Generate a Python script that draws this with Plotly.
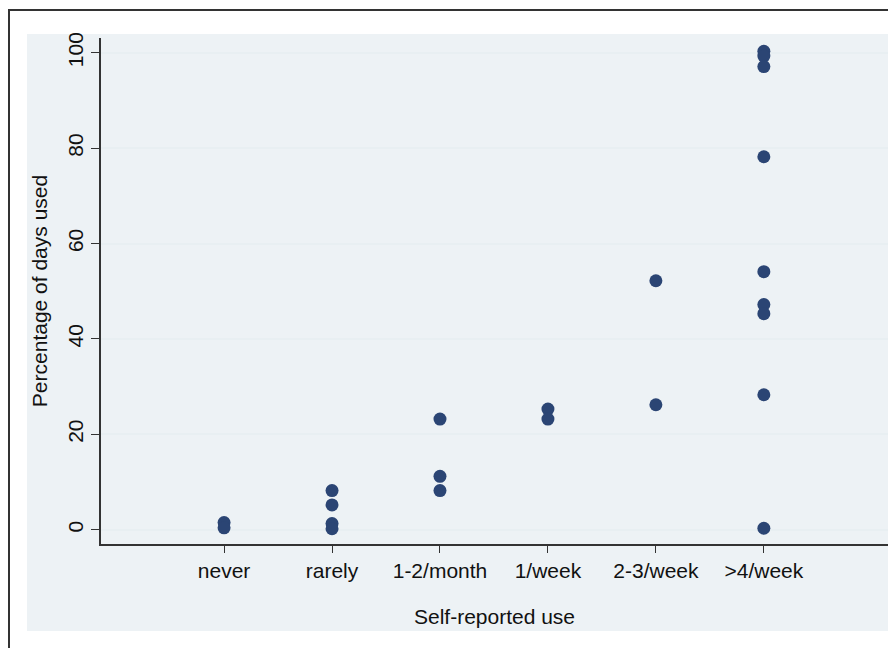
import plotly.graph_objects as go

categories = ["never", "rarely", "1-2/month", "1/week", "2-3/week", ">4/week"]
never = [1.5, 0.4]
rarely = [8.2, 5.2, 1.3, 0.2]
month_1_2 = [23.2, 11.2, 8.2]
week_1 = [25.3, 23.2]
week_2_3 = [52.2, 26.2]
week_4plus = [100.3, 99.3, 97.1, 78.2, 54.1, 47.2, 45.3, 28.3, 0.3]
y_ticks = [0, 20, 40, 60, 80, 100]

groups = [never, rarely, month_1_2, week_1, week_2_3, week_4plus]
xs, ys = [], []
for i, vals in enumerate(groups):
    for v in vals:
        xs.append(i + 1)
        ys.append(v)

W, H = 896, 648
OFF = 8  # page body margin offset
L, R, T, B = 101 - OFF, 888 - OFF, 38 - OFF, 544 - OFF
FONT = "Liberation Sans, Arial, Helvetica, sans-serif"

def px(x):
    return (x - OFF - L) / (R - L)

def py(y):
    return (B - (y - OFF)) / (B - T)

fig = go.Figure()
fig.add_trace(go.Scatter(
    x=xs, y=ys, mode="markers",
    marker=dict(size=13, color="#2b4574", line=dict(width=0)),
    showlegend=False, hoverinfo="x+y",
))

fig.update_layout(
    width=W, height=H,
    margin=dict(l=L, r=W - R, t=T, b=H - B),
    paper_bgcolor="white",
    plot_bgcolor="white",
    font=dict(family=FONT, size=21, color="#111111"),
    shapes=[
        dict(type="rect", xref="paper", yref="paper",
             x0=px(27), x1=px(888), y0=py(631), y1=py(34),
             fillcolor="#edf2f5", line=dict(width=0), layer="below"),
        dict(type="rect", xref="paper", yref="paper",
             x0=px(9), x1=px(960), y0=py(720), y1=py(10),
             fillcolor="rgba(0,0,0,0)", line=dict(color="#333333", width=2),
             layer="below"),
    ],
)

fig.update_xaxes(
    range=[-0.14, 7.15],
    tickmode="array", tickvals=list(range(1, 7)), ticktext=categories,
    showgrid=False, zeroline=False,
    showline=True, linecolor="#333333", linewidth=1.5,
    ticks="outside", ticklen=7, tickwidth=1.2, tickcolor="#333333",
    tickfont=dict(size=21, family=FONT, color="#111111"),
    ticklabelstandoff=0,
    title=dict(text="Self-reported use", font=dict(size=21, family=FONT, color="#111111"), standoff=28),
)
fig.update_yaxes(
    range=[-3, 103.1],
    tickmode="array", tickvals=y_ticks,
    showgrid=True, gridcolor="#e8eff2", gridwidth=1.5,
    zeroline=False,
    showline=True, linecolor="#333333", linewidth=1.5,
    ticks="outside", ticklen=8, tickwidth=1.2, tickcolor="#333333",
    tickangle=-90,
    ticklabelstandoff=0,
    tickfont=dict(size=21, family=FONT, color="#111111"),
    title=dict(text="Percentage of days used", font=dict(size=21, family=FONT, color="#111111"), standoff=10),
)

fig.write_html("out.html")
